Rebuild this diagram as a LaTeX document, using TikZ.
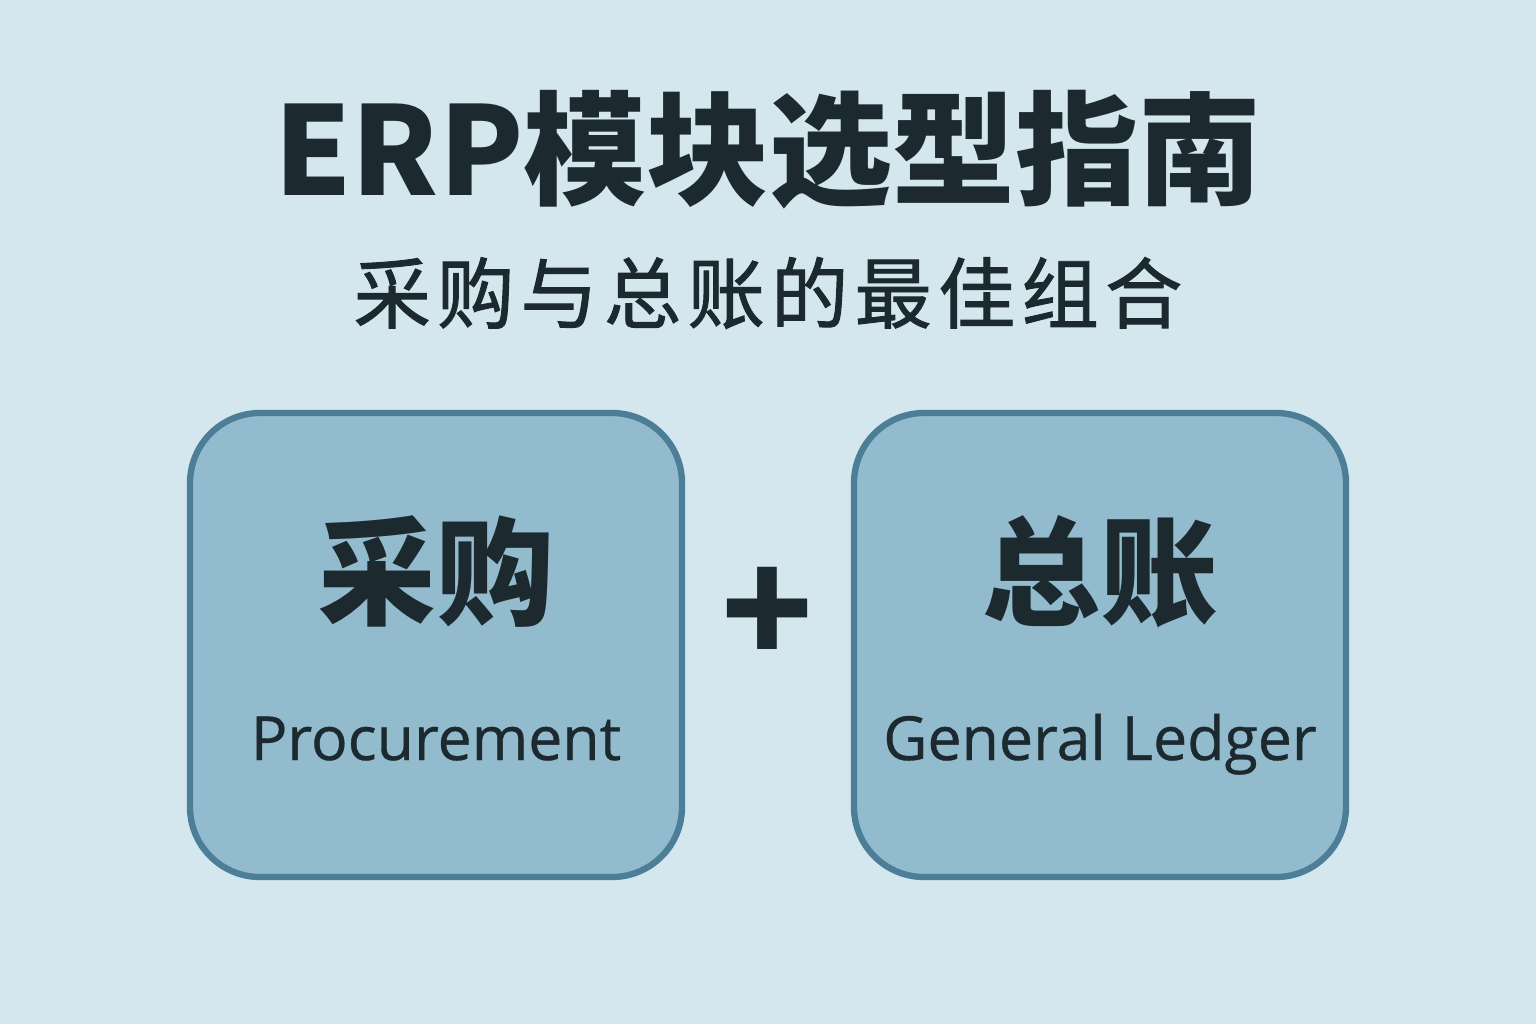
\documentclass[tikz,border=0pt]{standalone}
\usepackage{fontspec}
\setmainfont{Noto Sans CJK SC}
\newfontfamily\cjk{Noto Sans CJK SC}
\newfontfamily\cjksub[LetterSpace=8, FakeBold=1.2]{Noto Sans CJK SC}
\newfontfamily\latin[FakeBold=0.6]{Open Sans}
\definecolor{bgblue}{HTML}{D4E7EE}
\definecolor{boxblue}{HTML}{93BBCE}
\definecolor{edgeblue}{HTML}{4C7E98}
\definecolor{inkdark}{HTML}{1C2A30}
\usetikzlibrary{positioning, calc}
\tikzset{
	module/.style={rectangle, rounded corners=0.7cm, draw=edgeblue, fill=boxblue, line width=1.8pt, minimum width=4.92cm, minimum height=4.64cm},
	headline/.style={text=inkdark, font=\cjk\bfseries\fontsize{35}{40}\selectfont},
	subline/.style={text=inkdark, font=\cjksub\fontsize{22}{26}\selectfont},
	cnlabel/.style={text=inkdark, font=\cjk\bfseries\fontsize{33.5}{38}\selectfont},
	enlabel/.style={text=inkdark, anchor=base, font=\latin\fontsize{17.3}{21}\selectfont},
}
\begin{document}
\begin{tikzpicture}
	\fill[bgblue] (0,0) rectangle (15.36,10.24);
	\useasboundingbox (0,0) rectangle (15.36,10.24);
	\node[headline] (title) at (7.68,8.74) {ERP模块选型指南};
	\node[subline] (subtitle) at (7.68,7.31) {采购与总账的最佳组合};
	\node[module] (procure) at (4.36,3.79) {};
	\node[module] (ledger) at (11.00,3.79) {};
	\node[cnlabel] (procurecn) at ($(procure.center)+(0,0.73)$) {采购};
	\node[enlabel] (procureen) at ($(procure.center)+(0,-1.15)$) {Procurement};
	\node[cnlabel] (ledgercn) at ($(ledger.center)+(0,0.73)$) {总账};
	\node[enlabel] (ledgeren) at ($(ledger.center)+(0,-1.15)$) {General Ledger};
	\node[text=inkdark, font=\cjk\bfseries\fontsize{43}{48}\selectfont] (plus) at (7.68,4.08) {+};
\end{tikzpicture}
\end{document}
